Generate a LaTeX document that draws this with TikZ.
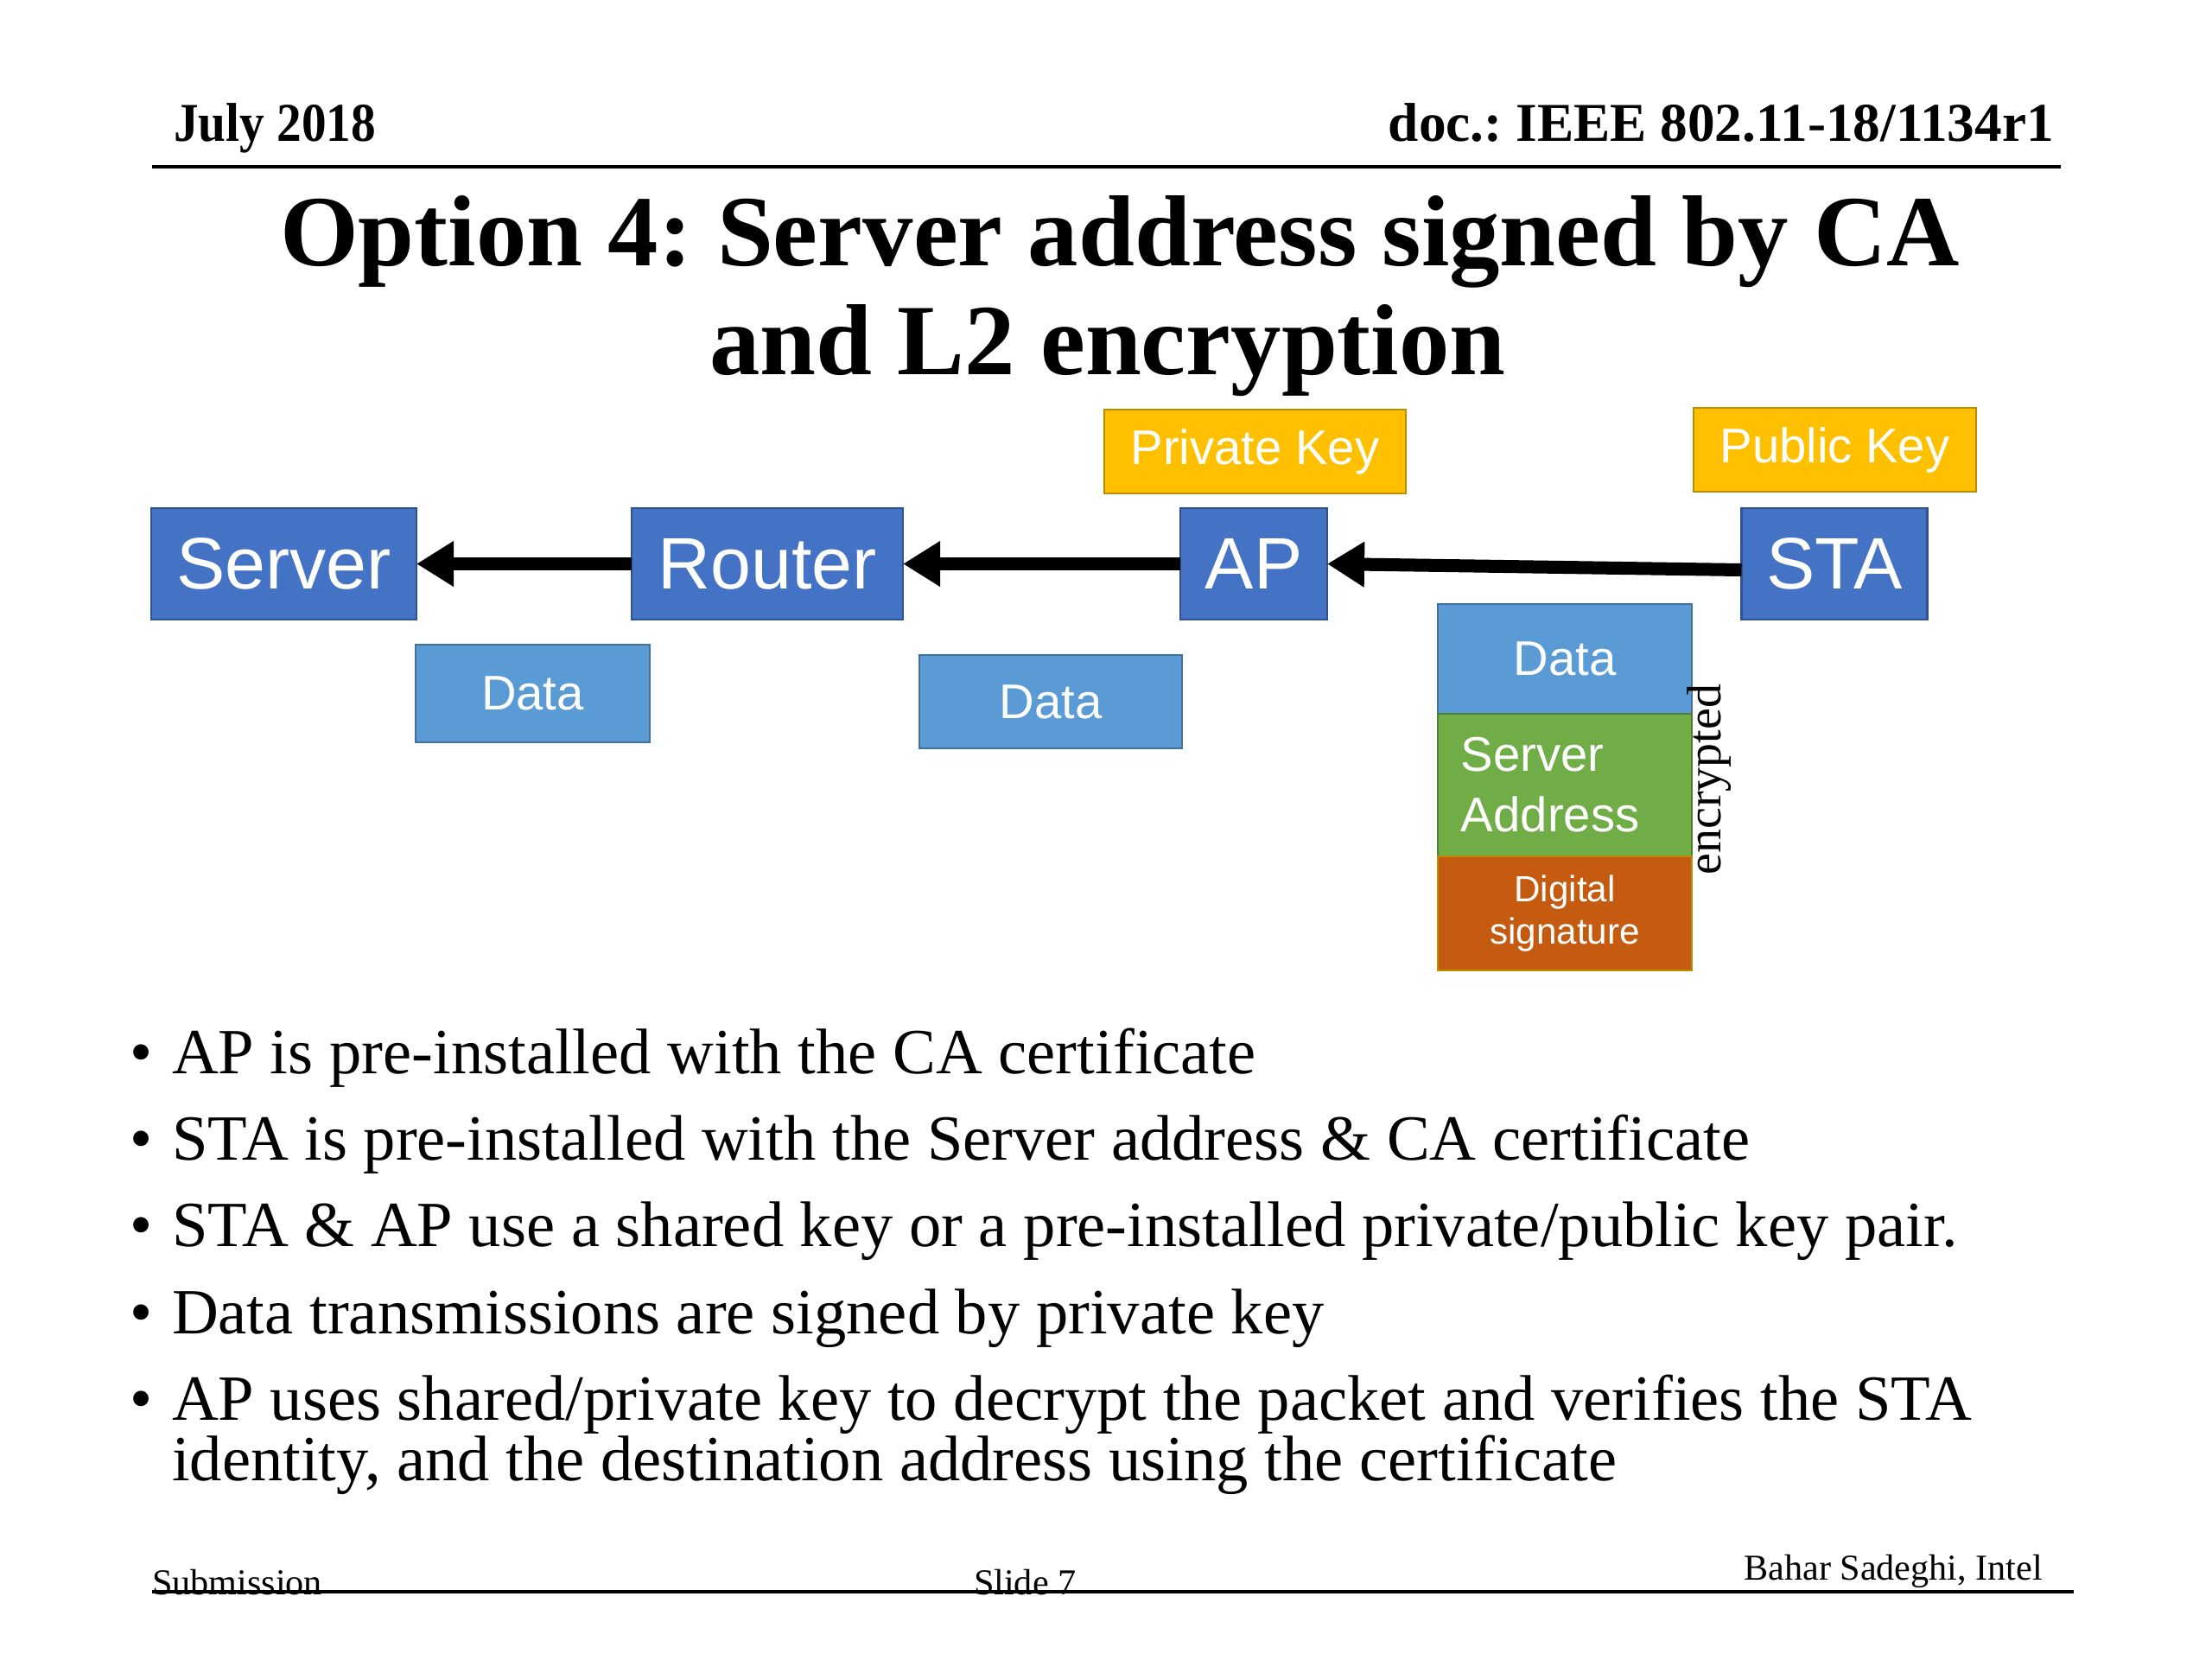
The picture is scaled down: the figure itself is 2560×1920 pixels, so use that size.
\documentclass[tikz,border=0pt]{standalone}
\usepackage{fontspec}
\setmainfont{Liberation Serif}
\newfontfamily\arialf{Liberation Sans}
\usetikzlibrary{arrows.meta}
\frenchspacing
\definecolor{bluefill}{HTML}{4472C4}
\definecolor{blueline}{HTML}{2F528F}
\definecolor{datafill}{HTML}{5B9BD5}
\definecolor{dataline}{HTML}{41719C}
\definecolor{goldfill}{HTML}{FFC000}
\definecolor{goldline}{HTML}{BC8C00}
\definecolor{greenfill}{HTML}{70AD47}
\definecolor{greenline}{HTML}{507E32}
\definecolor{orangefill}{HTML}{C55A11}
\newcommand{\fsz}[1]{\fontsize{#1}{1.2\dimexpr #1\relax}\selectfont}
\tikzset{
  x=0.01cm, y=-0.01cm,
  txt/.style={inner sep=0pt, outer sep=0pt},
  boxbase/.style={rectangle, inner sep=0pt, outer sep=0pt, line width=0.7pt, text=white, font=\arialf},
  bigbox/.style={boxbase, fill=bluefill, draw=blueline, minimum height=1.29cm, font=\arialf\fsz{24pt}},
  keybox/.style={boxbase, fill=goldfill, draw=goldline, minimum height=0.97cm, font=\arialf\fsz{16pt}},
  databox/.style={boxbase, fill=datafill, draw=dataline, font=\arialf\fsz{16pt}},
  addrbox/.style={boxbase, fill=greenfill, draw=greenline, font=\arialf\fontsize{16pt}{19.9pt}\selectfont},
  sigbox/.style={boxbase, fill=orangefill, draw=goldline, font=\arialf\fontsize{12pt}{13.7pt}\selectfont},
  flow/.style={line width=4.27pt, -{Triangle[length=0.43cm, width=0.5cm]}},
  rule/.style={line width=1pt},
  hdr/.style={txt, font=\bfseries\fsz{18pt}},
  ftr/.style={txt, font=\fsz{12pt}},
  bul/.style={txt, font=\fsz{21.2pt}},
}
\begin{document}
\begin{tikzpicture}
\useasboundingbox (0,0) rectangle (2560,1920);
\fill[white] (0,0) rectangle (2560,1920);

% header
\node[hdr, anchor=base west] (date) at (201,163) {\scalebox{0.905}[1]{July 2018}};
\node[hdr, anchor=base east] (doc) at (2377,163) {doc.: IEEE 802.11-18/1134r1};
\coordinate (hl) at (176,193);
\coordinate (hr) at (2385,193);
\draw[rule] (hl) -- (hr);

% title
\node[txt, anchor=base, font=\bfseries\fsz{33.2pt}] (title1) at (1296,307) {Option 4: Server address signed by CA};
\node[txt, anchor=base, font=\bfseries\fsz{33.2pt}] (title2) at (1282,433) {and L2 encryption};

% key boxes
\node[keybox, minimum width=3.49cm] (priv) at (1452.5,522.5) {Private Key};
\node[keybox, minimum width=3.27cm] (pub) at (2123.5,520.5) {Public Key};

% main nodes
\node[bigbox, minimum width=3.07cm] (server) at (328.5,652.5) {Server};
\node[bigbox, minimum width=3.14cm] (router) at (888,652.5) {Router};
\node[bigbox, minimum width=1.70cm] (ap) at (1451,652.5) {AP};
\node[bigbox, minimum width=2.15cm] (sta) at (2123,652.5) {STA};

% arrows
\draw[flow] (router.west) -- (server.east);
\draw[flow] (ap.west) -- (router.east);
\draw[flow] ([yshift=-0.07cm]sta.west) -- (ap.east);

% data boxes
\node[databox, minimum width=2.71cm, minimum height=1.13cm] (data1) at (616.5,802.5) {Data};
\node[databox, minimum width=3.04cm, minimum height=1.08cm] (data2) at (1216,812) {Data};

% packet stack
\node[databox, minimum width=2.94cm, minimum height=1.27cm] (data3) at (1811,762.5) {Data};
\node[addrbox, minimum width=2.94cm, minimum height=1.65cm, text width=2.40cm, inner xsep=0.27cm, align=left] (addr) at (1811,908.5) {Server\\Address};
\node[sigbox, minimum width=2.94cm, minimum height=1.32cm, align=center] (sig) at (1811,1057) {Digital\\signature};
\node[txt, rotate=90, font=\fsz{15.9pt}] (enc) at (1978,902) {encrypted};

% bullets
\foreach \y/\t [count=\i] in {1242/{AP is pre-installed with the CA certificate},
  1342/{STA is pre-installed with the Server address \& CA certificate},
  1442/{STA \& AP use a shared key or a pre-installed private/public key pair.},
  1543/{Data transmissions are signed by private key},
  1643/{AP uses shared/private key to decrypt the packet and verifies the STA}} {
  \node[bul, anchor=base west] (dot\i) at (150,\y) {\textbullet};
  \node[bul, anchor=base west] (b\i) at (199,\y) {\t};
}
\node[bul, anchor=base west] (b6) at (199,1713) {identity, and the destination address using the certificate};

% footer
\coordinate (fl) at (176,1842);
\coordinate (fr) at (2400,1842);
\draw[rule] (fl) -- (fr);
\node[ftr, anchor=base west] (sub) at (176,1845) {Submission};
\node[ftr, anchor=base west] (slide) at (1127,1845) {Slide 7};
\node[ftr, anchor=base east] (auth) at (2364,1828) {Bahar Sadeghi, Intel};
\end{tikzpicture}
\end{document}
